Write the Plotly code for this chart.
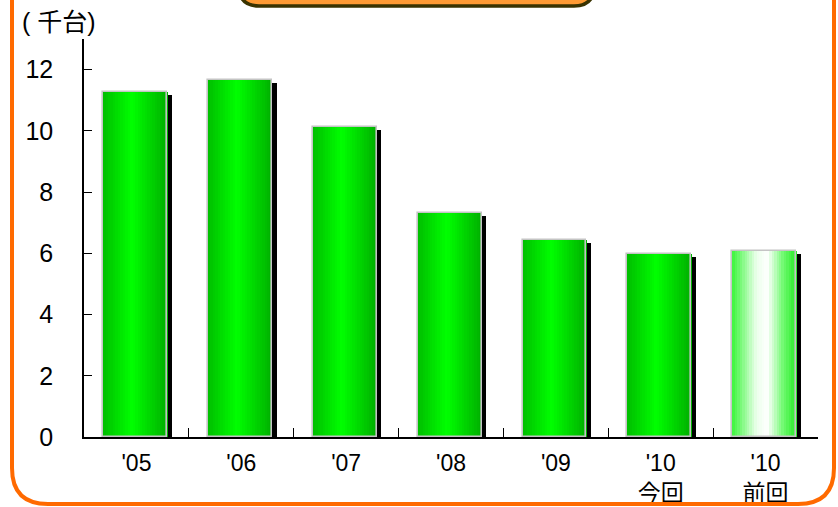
import plotly.graph_objects as go

categories = ["'05", "'06", "'07", "'08", "'09", "'10<br>今回", "'10<br>前回"]
values = [11.28, 11.66, 10.13, 7.31, 6.43, 5.98, 6.09]
y_unit_label = "( 千台)"
y_ticks = [0, 2, 4, 6, 8, 10, 12]

W, H = 838, 507
ML, MR, MT, MB = 84, 20, 39, 70
PW, PH = W - ML - MR, H - MT - MB
YMAX = 13

def px(x):
    return (x - ML) / PW

def py(y):
    return (H - MB - y) / PH

def lerp(c1, c2, t):
    return tuple(int(round(a + (b - a) * t)) for a, b in zip(c1, c2))

def grad(stops, t):
    for (t0, c0), (t1, c1) in zip(stops, stops[1:]):
        if t0 <= t <= t1:
            return lerp(c0, c1, (t - t0) / (t1 - t0) if t1 > t0 else 0)
    return stops[-1][1]

green_stops = [(0.0, (0, 190, 0)), (0.45, (0, 255, 0)), (1.0, (0, 175, 0))]
light_stops = [(0.0, (60, 245, 60)), (0.38, (235, 255, 235)), (0.55, (255, 255, 255)),
               (0.8, (110, 250, 110)), (1.0, (40, 235, 40))]

BAR_W = 0.61
BAR_OFF = -0.318
N = 26
SW = BAR_W / N

fig = go.Figure()

# shadow
fig.add_trace(go.Bar(
    x=categories, y=[v - 0.1 for v in values], width=BAR_W, offset=BAR_OFF + 0.045,
    marker=dict(color="black", line=dict(width=0)), hoverinfo="skip", showlegend=False))

# gradient slices
for i in range(N):
    t = (i + 0.5) / N
    cg = "rgb(%d,%d,%d)" % grad(green_stops, t)
    cl = "rgb(%d,%d,%d)" % grad(light_stops, t)
    colors = [cg] * (len(categories) - 1) + [cl]
    fig.add_trace(go.Bar(
        x=categories, y=values, width=SW * 1.2, offset=BAR_OFF + i * SW,
        marker=dict(color=colors, line=dict(width=0)), hoverinfo="skip", showlegend=False))

# outline
fig.add_trace(go.Bar(
    x=categories, y=values, width=BAR_W, offset=BAR_OFF,
    marker=dict(color="rgba(0,0,0,0)", line=dict(color="#c4c4c4", width=1.6)),
    hoverinfo="skip", showlegend=False))

font_fam = "Arial, 'Liberation Sans', 'Noto Sans CJK JP', sans-serif"

shapes = []
# orange outer rounded border
r = 36
L, R, B, T = 12, 834, 504, -60
path = (f"M {px(L)},{py(T)} L {px(L)},{py(B - r)} Q {px(L)},{py(B)} {px(L + r)},{py(B)} "
        f"L {px(R - r)},{py(B)} Q {px(R)},{py(B)} {px(R)},{py(B - r)} L {px(R)},{py(T)}")
shapes.append(dict(type="path", xref="paper", yref="paper", path=path,
                   line=dict(color="#ff6a00", width=4), fillcolor="rgba(0,0,0,0)", layer="above"))
# title box
r2 = 20
L2, R2, B2, T2 = 239, 594, 6, -60
path2 = (f"M {px(L2)},{py(T2)} L {px(L2)},{py(B2 - r2)} Q {px(L2)},{py(B2)} {px(L2 + r2)},{py(B2)} "
         f"L {px(R2 - r2)},{py(B2)} Q {px(R2)},{py(B2)} {px(R2)},{py(B2 - r2)} L {px(R2)},{py(T2)} Z")
shapes.append(dict(type="path", xref="paper", yref="paper", path=path2,
                   line=dict(color="#3a3300", width=3.5), fillcolor="#ff9a33", layer="above"))

fig.update_layout(
    width=W, height=H, margin=dict(l=ML, r=MR, t=MT, b=MB, autoexpand=False),
    paper_bgcolor="white", plot_bgcolor="white",
    barmode="overlay", bargap=0,
    font=dict(family=font_fam, size=24, color="black"),
    shapes=shapes,
    showlegend=False,
    annotations=[dict(text=y_unit_label, xref="paper", yref="paper",
                      x=px(20), y=py(22), xanchor="left", yanchor="middle",
                      showarrow=False, font=dict(size=25, family=font_fam))],
)
fig.update_xaxes(
    type="category", showline=True, linecolor="black", linewidth=1.5,
    ticks="inside", tickson="boundaries", ticklen=9, tickcolor="black", tickwidth=1.2,
    showgrid=False, zeroline=False, ticklabelstandoff=5, automargin=False,
    tickfont=dict(size=23, family=font_fam),
)
fig.update_yaxes(
    range=[0, YMAX], tickvals=y_ticks, showline=True, linecolor="black", linewidth=1.5,
    ticks="inside", ticklen=8, tickcolor="black", tickwidth=1.2,
    showgrid=False, zeroline=False, ticklabelstandoff=24, automargin=False,
    tickfont=dict(size=25, family=font_fam),
)

fig.write_html(
    "out.html",
    config={"displayModeBar": False},
    post_script="document.body.style.margin='0';document.documentElement.style.overflow='hidden';document.body.style.overflow='hidden';",
)
